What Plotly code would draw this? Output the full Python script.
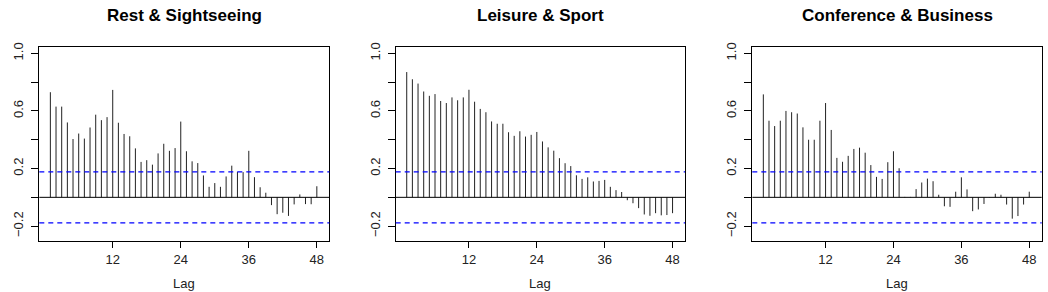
import plotly.graph_objects as go

lags = list(range(1, 49))
titles = ["Rest & Sightseeing", "Leisure & Sport", "Conference & Business"]

acf_rest = [0.73, 0.63, 0.63, 0.52, 0.405, 0.443, 0.408, 0.485, 0.574, 0.536, 0.557, 0.746,
            0.518, 0.44, 0.424, 0.34, 0.246, 0.258, 0.227, 0.305, 0.372, 0.323, 0.342, 0.526,
            0.32, 0.25, 0.238, 0.152, 0.073, 0.099, 0.073, 0.145, 0.22, 0.177, 0.175, 0.323,
            0.14, 0.07, 0.032, -0.054, -0.117, -0.107, -0.129, -0.049, 0.02, -0.047, -0.048, 0.077]
acf_leisure = [0.87, 0.82, 0.79, 0.735, 0.705, 0.717, 0.669, 0.655, 0.694, 0.674, 0.694, 0.747,
               0.664, 0.614, 0.591, 0.527, 0.511, 0.511, 0.452, 0.427, 0.459, 0.422, 0.434, 0.454,
               0.388, 0.347, 0.324, 0.272, 0.237, 0.217, 0.153, 0.128, 0.139, 0.11, 0.114, 0.121,
               0.073, 0.05, 0.037, -0.02, -0.041, -0.075, -0.119, -0.128, -0.11, -0.125, -0.123, -0.11]
acf_conf = [0.715, 0.532, 0.495, 0.532, 0.60, 0.591, 0.582, 0.486, 0.40, 0.40, 0.532, 0.655,
            0.468, 0.274, 0.247, 0.288, 0.336, 0.345, 0.31, 0.224, 0.142, 0.128, 0.244, 0.32,
            0.202, 0.003, 0.003, 0.057, 0.103, 0.13, 0.112, 0.018, -0.062, -0.066, 0.039, 0.139,
            0.055, -0.096, -0.084, -0.046, -0.002, 0.025, 0.018, -0.05, -0.148, -0.13, -0.05, 0.039]
series = [acf_rest, acf_leisure, acf_conf]
clim = 0.177

x_tickvals = [12, 24, 36, 48]
y_tickvals = [-0.2, 0.0, 0.2, 0.4, 0.6, 0.8, 1.0]
y_ticktext = ["\u22120.2", "", "0.2", "", "0.6", "", "1.0"]

W, H = 1048, 292
x_domains = [(39.3, 329.3), (395.7, 685.0), (752.3, 1041.7)]
y_dom = [1 - 240.7 / H, 1 - 43.3 / H]

font_family = "Liberation Sans, Arial, Helvetica, sans-serif"

fig = go.Figure()
shapes = []
annotations = []
for i, (vals, title) in enumerate(zip(series, titles)):
    n = "" if i == 0 else str(i + 1)
    xs, ys = [], []
    for l, v in zip(lags, vals):
        xs += [l, l, None]
        ys += [0, v, None]
    fig.add_trace(go.Scatter(x=xs, y=ys, mode="lines", line=dict(color="#222222", width=1),
                             xaxis="x" + n, yaxis="y" + n, showlegend=False, hoverinfo="skip"))
    shapes.append(dict(type="line", xref="x" + n + " domain", x0=0, x1=1, yref="y" + n, y0=0, y1=0,
                       line=dict(color="black", width=1)))
    for c in (clim, -clim):
        shapes.append(dict(type="line", xref="x" + n + " domain", x0=0, x1=1, yref="y" + n, y0=c, y1=c,
                           line=dict(color="#0000ff", width=1.3, dash="5px,4px")))
    d0, d1 = x_domains[i]
    fig.layout["xaxis" + n] = dict(
        domain=[d0 / W, d1 / W], range=[-0.95, 50.2], anchor="y" + n,
        tickvals=x_tickvals, ticks="outside", ticklen=6, tickcolor="black",
        showline=True, mirror=True, linecolor="black", linewidth=1,
        showgrid=False, zeroline=False, tickfont=dict(size=13, color="#222"))
    fig.layout["yaxis" + n] = dict(
        domain=y_dom, range=[-0.306, 1.046], anchor="x" + n,
        tickvals=y_tickvals, ticktext=y_ticktext, tickangle=-90,
        ticks="outside", ticklen=7, tickcolor="black", ticklabelstandoff=3,
        showline=True, mirror=True, linecolor="black", linewidth=1,
        showgrid=False, zeroline=False, tickfont=dict(size=13, color="#222"))
    cx = (d0 + d1) / 2 / W
    annotations.append(dict(text="<b>" + title.replace("&", "&amp;") + "</b>", x=cx, y=1 - 12 / H,
                            xref="paper", yref="paper", showarrow=False, xanchor="center", yanchor="middle",
                            font=dict(size=17, color="black")))
    annotations.append(dict(text="Lag", x=cx, y=1 - 283 / H, xref="paper", yref="paper",
                            showarrow=False, xanchor="center", yanchor="middle",
                            font=dict(size=13, color="#222")))

fig.update_layout(width=W, height=H, margin=dict(l=0, r=0, t=0, b=0),
                  plot_bgcolor="white", paper_bgcolor="white",
                  font=dict(family=font_family), shapes=shapes, annotations=annotations)
fig.write_html("out.html")
